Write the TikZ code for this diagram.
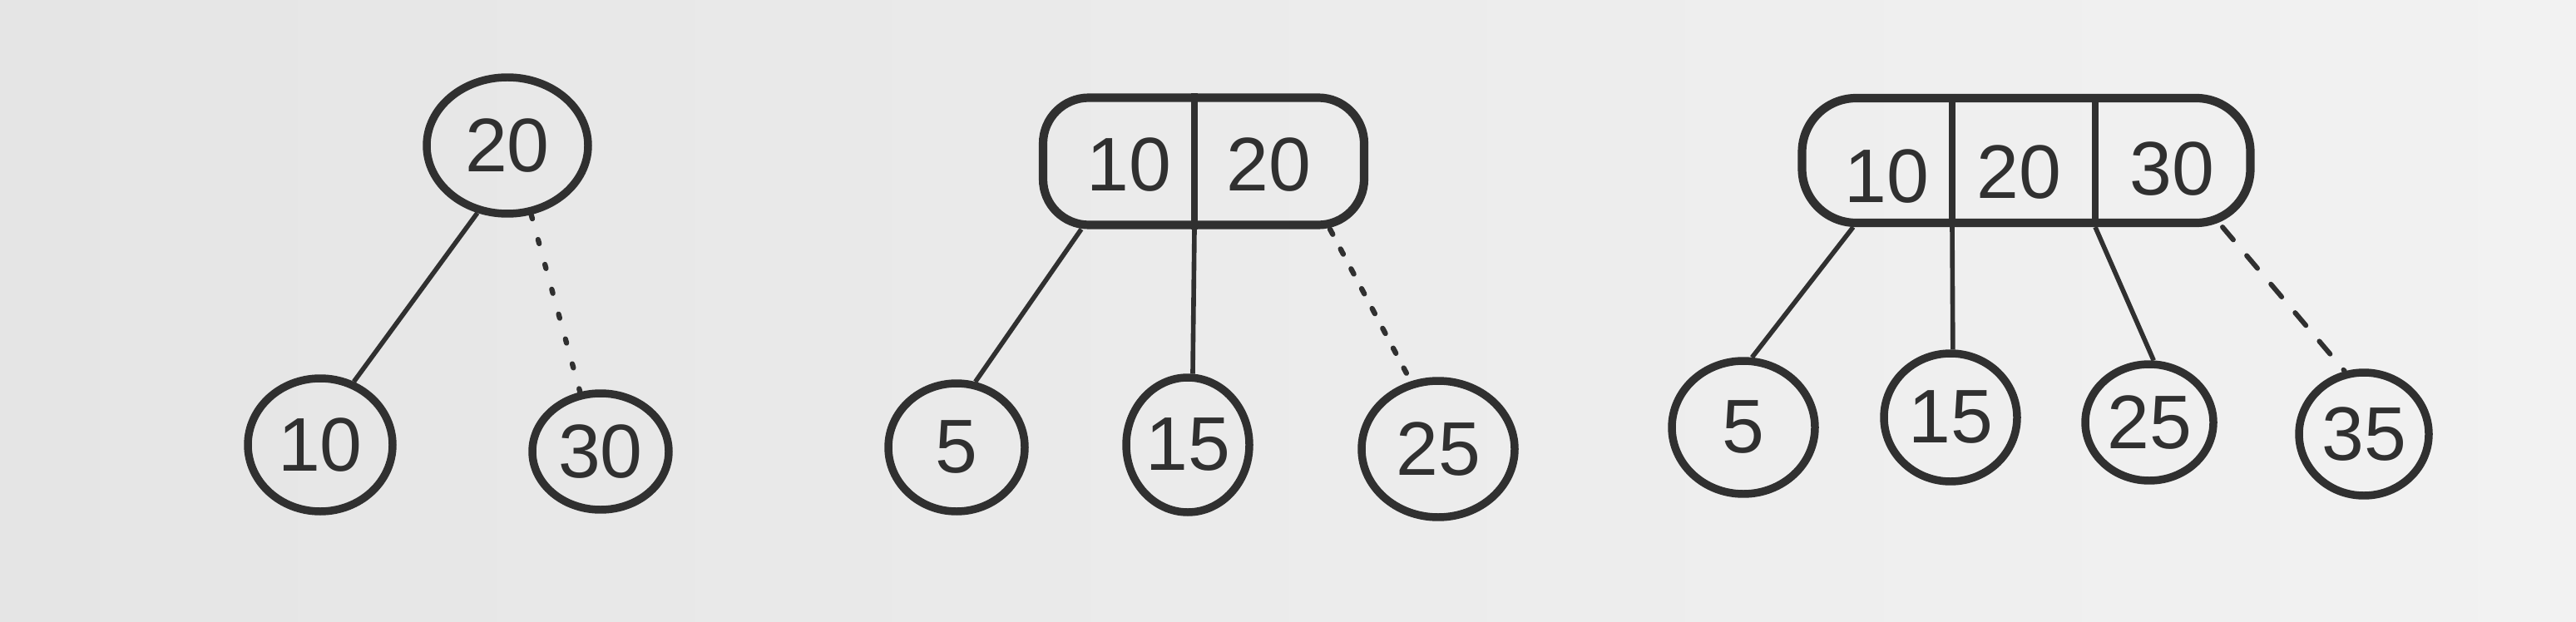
\documentclass[tikz,border=0pt]{standalone}
\usepackage{fontspec}
\setmainfont{Liberation Sans}
\usetikzlibrary{shapes.geometric}
\definecolor{ink}{RGB}{48,48,48}
\definecolor{paperL}{RGB}{229,229,229}
\definecolor{paperR}{RGB}{242,242,242}
\tikzset{
  keynode/.style={ellipse, draw=ink, line width=2.7pt, inner sep=0pt, text=ink,
    font=\fontsize{26}{30}\selectfont},
  keybox/.style={rectangle, draw=ink, line width=2.9pt, inner sep=0pt},
  keytext/.style={text=ink, inner sep=0pt, font=\fontsize{26}{30}\selectfont},
  divider/.style={draw=ink, line width=2.2pt},
  link/.style={draw=ink, line width=1.6pt},
  dotlink/.style={draw=ink, line width=1.8pt, line cap=round, dash pattern=on 0.05cm off 0.26cm},
  dotlinkb/.style={draw=ink, line width=1.8pt, line cap=round, dash pattern=on 0.07cm off 0.2cm},
  dashlink/.style={draw=ink, line width=1.7pt, line cap=round, dash pattern=on 0.2cm off 0.25cm}
}
\begin{document}
\begin{tikzpicture}
\shade[left color=paperL, right color=paperR] (0,0) rectangle (30.97,-7.48);
\useasboundingbox (0,0) rectangle (30.97,-7.48);

% ---------- tree 1 ----------
\node[keynode, minimum width=1.94cm, minimum height=1.64cm] (a20) at (6.10,-1.75) {20};
\node[keynode, minimum width=1.74cm, minimum height=1.60cm] (a10) at (3.85,-5.35) {10};
\node[keynode, minimum width=1.64cm, minimum height=1.40cm] (a30) at (7.22,-5.43) {30};
\draw[link] (a20.246) -- (a10.62);
\draw[dotlink] (a20.289) -- (a30.109);

% ---------- tree 2 ----------
\node[keybox, rounded corners=0.55cm, minimum width=3.86cm, minimum height=1.53cm] (b) at (14.47,-1.94) {};
\draw[divider] ([xshift=-0.11cm]b.north) -- ([xshift=-0.11cm]b.south);
\node[keytext] (b10) at (13.57,-1.98) {10};
\node[keytext] (b20) at (15.25,-1.98) {20};
\coordinate (bl) at ([xshift=-1.47cm]b.south);
\coordinate (bm) at ([xshift=-0.11cm]b.south);
\coordinate (br) at ([xshift=1.52cm]b.south);
\node[keynode, minimum width=1.64cm, minimum height=1.54cm] (b5) at (11.50,-5.38) {5};
\node[keynode, minimum width=1.48cm, minimum height=1.62cm] (b15) at (14.28,-5.35) {15};
\node[keynode, minimum width=1.84cm, minimum height=1.64cm] (b25) at (17.29,-5.40) {25};
\draw[link] (bl) -- (b5.74);
\draw[link] (bm) -- (b15.86);
\draw[dotlinkb] (br) -- (b25.112);

% ---------- tree 3 ----------
\node[keybox, rounded corners=0.65cm, minimum width=5.39cm, minimum height=1.50cm] (c) at (24.36,-1.93) {};
\draw[divider] ([xshift=-0.89cm]c.north) -- ([xshift=-0.89cm]c.south);
\draw[divider] ([xshift=0.83cm]c.north) -- ([xshift=0.83cm]c.south);
\node[keytext] (c10) at (22.68,-2.12) {10};
\node[keytext] (c20) at (24.27,-2.07) {20};
\node[keytext] (c30) at (26.11,-2.03) {30};
\coordinate (c1) at ([xshift=-2.08cm]c.south);
\coordinate (c2) at ([xshift=-0.89cm]c.south);
\coordinate (c3) at ([xshift=0.83cm]c.south);
\coordinate (c4) at ([xshift=2.36cm]c.south);
\node[keynode, minimum width=1.72cm, minimum height=1.60cm] (c5) at (20.96,-5.14) {5};
\node[keynode, minimum width=1.60cm, minimum height=1.54cm] (c15) at (23.45,-5.02) {15};
\node[keynode, minimum width=1.54cm, minimum height=1.40cm] (c25) at (25.84,-5.08) {25};
\node[keynode, minimum width=1.56cm, minimum height=1.48cm] (c35) at (28.42,-5.22) {35};
\draw[link] (c1) -- (c5.83);
\draw[link] (c2) -- (c15.88);
\draw[link] (c3) -- (c25.86);
\draw[dashlink] (c4) -- (c35.107);
\end{tikzpicture}
\end{document}
